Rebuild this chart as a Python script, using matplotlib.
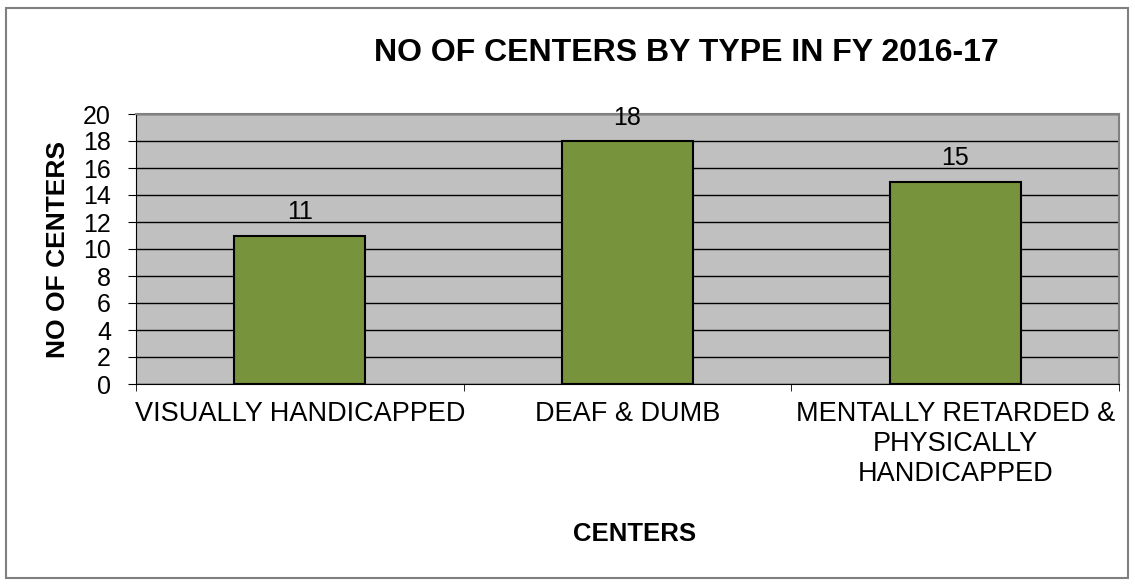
import matplotlib.pyplot as plt
import numpy as np
from matplotlib.patches import Rectangle

plt.rcParams['font.family'] = ['Liberation Sans', 'DejaVu Sans']

categories = ["VISUALLY HANDICAPPED", "DEAF & DUMB",
              "MENTALLY RETARDED &\nPHYSICALLY\nHANDICAPPED"]
centers = [11, 18, 15]
yticks = list(range(0, 21, 2))

fig = plt.figure(figsize=(11.35, 5.86), dpi=100)
# chart border
fig.patches.append(Rectangle((6 / 1135, 8 / 586), 1122 / 1135, 570 / 586,
                             transform=fig.transFigure, fill=False,
                             edgecolor="#808080", linewidth=1.5))

ax = fig.add_axes([136 / 1135, 202 / 586, 983 / 1135, 270 / 586])
ax.set_facecolor("#C0C0C0")

x = np.arange(len(categories))
bars = ax.bar(x, centers, width=0.4, color="#77933C", edgecolor="black",
              linewidth=1.5, zorder=3)
for b, v in zip(bars, centers):
    ax.annotate(str(v), xy=(b.get_x() + b.get_width() / 2, v),
                xytext=(0, 8), textcoords="offset points",
                ha="center", va="bottom", fontsize=18)

ax.set_xlim(-0.5, len(categories) - 0.5)
ax.set_ylim(0, 20)
ax.set_yticks(yticks)
ax.yaxis.grid(True, color="black", linewidth=1, zorder=1)
ax.set_axisbelow(True)

ax.set_xticks(x)
ax.set_xticklabels(categories, fontsize=19.5, linespacing=1.2)
ax.set_xticks(np.arange(len(categories) + 1) - 0.5, minor=True)
ax.tick_params(axis="x", which="major", length=0, pad=12)
ax.tick_params(axis="x", which="minor", length=5, direction="out", color="black")
ax.tick_params(axis="y", labelsize=18, length=6, direction="out", pad=12)

for s in ("top", "right"):
    ax.spines[s].set_color("#808080")
    ax.spines[s].set_linewidth(1.5)
ax.spines["left"].set_color("black")
ax.spines["bottom"].set_color("black")

ax.set_ylabel("NO OF CENTERS", fontsize=19, fontweight="bold")
ax.yaxis.set_label_coords((70 - 136) / 983, 0.5)
fig.text(635 / 1135, 1 - 534 / 586, "CENTERS", fontsize=18.5, fontweight="bold",
         ha="center", va="center")
fig.text(686 / 1135, 1 - 53 / 586, "NO OF CENTERS BY TYPE IN FY 2016-17",
         fontsize=23, fontweight="bold", ha="center", va="center")

plt.savefig("out.png", dpi=100)
